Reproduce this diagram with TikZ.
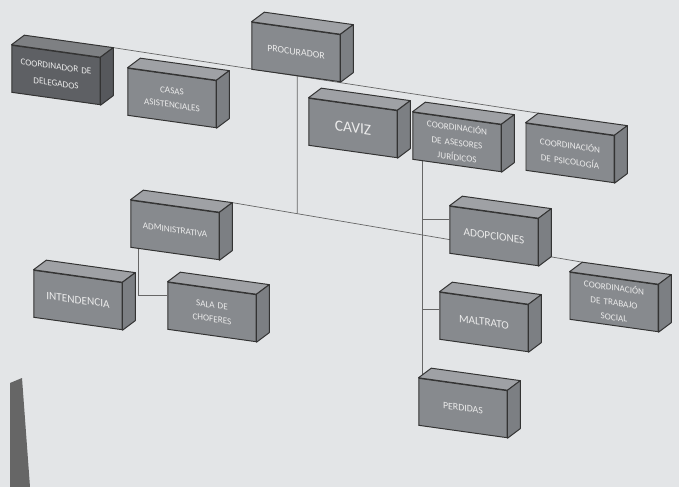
\documentclass[tikz,border=0pt]{standalone}
\usepackage{fontspec}
\setsansfont{Carlito}
\definecolor{gris}{HTML}{878A8E}
\definecolor{grisosc}{HTML}{5E6064}
\definecolor{fondo}{HTML}{E3E5E7}
\pgfdeclarelayer{fondo}
\pgfdeclarelayer{lineas}
\pgfsetlayers{fondo,lineas,main}

\begin{document}
\begin{tikzpicture}[x = 0.025cm, y = -0.025cm,
    caja/.style = {draw=black!80, line width=0.7pt, fill=gris, text=white!92!black,
        font=\sffamily\fontsize{6.5}{10}\selectfont, minimum width=2.2cm, minimum height=1.175cm,
        inner sep=1pt, text width=2.05cm, align=center, yslant=-0.14},
    linea/.style = {draw=black!60, line width=0.5pt}]
    \useasboundingbox (0,0) rectangle (679,487);
    \begin{pgfonlayer}{fondo}
        \fill[fondo] (0,0) rectangle (679,487);
        \fill[black!60] (10,383) -- (22,378) -- (30,487) -- (10,487) -- cycle;
    \end{pgfonlayer}

    % primer nivel
    \node[caja, fill=grisosc, font=\sffamily\fontsize{6.5}{12}\selectfont] (dele) at (56,75) {COORDINADOR DE\\ DELEGADOS};
    \node[caja] (casas) at (172,98) {CASAS\\ ASISTENCIALES};
    \node[caja, font=\sffamily\fontsize{7}{10}\selectfont] (proc) at (296,52) {PROCURADOR};
    \node[caja, font=\sffamily\fontsize{11}{13}\selectfont] (caviz) at (353,128) {CAVIZ};
    \node[caja, font=\sffamily\fontsize{6.5}{10.5}\selectfont] (ases) at (457,142) {COORDINACIÓN\\ DE ASESORES\\ JURÍDICOS};
    \node[caja, font=\sffamily\fontsize{6.5}{11.5}\selectfont] (psico) at (570,153) {COORDINACIÓN\\ DE PSICOLOGÍA};

    % segundo nivel
    \node[caja] (admin) at (175,230) {ADMINISTRATIVA};
    \node[caja, font=\sffamily\fontsize{8}{10}\selectfont] (inten) at (78,300) {INTENDENCIA};
    \node[caja] (sala) at (212,312) {SALA DE\\ CHOFERES};
    \node[caja, font=\sffamily\fontsize{8}{10}\selectfont] (adop) at (494,236) {ADOPCIONES};
    \node[caja, font=\sffamily\fontsize{6.5}{10.5}\selectfont] (trab) at (614,302) {COORDINACIÓN\\ DE TRABAJO\\ SOCIAL};
    \node[caja, font=\sffamily\fontsize{8}{10}\selectfont] (malt) at (484,322) {MALTRATO};
    \node[caja, font=\sffamily\fontsize{7}{10}\selectfont] (perd) at (463,408) {PERDIDAS};

    % caras de arriba y del lado
    \foreach \n/\c in {dele/grisosc, casas/gris, proc/gris, caviz/gris, ases/gris, psico/gris,
        admin/gris, inten/gris, sala/gris, adop/gris, trab/gris, malt/gris, perd/gris}
    {
        \filldraw[fill=\c!80!white, draw=black!80, line width=0.7pt, line join=round]
            (\n.north west) -- ([shift={(0.32cm,0.24cm)}]\n.north west)
            -- ([shift={(0.32cm,0.24cm)}]\n.north east) -- (\n.north east) -- cycle;
        \filldraw[fill=\c!92!black, draw=black!80, line width=0.7pt, line join=round]
            (\n.north east) -- ([shift={(0.32cm,0.24cm)}]\n.north east)
            -- ([shift={(0.32cm,0.24cm)}]\n.south east) -- (\n.south east) -- cycle;
    }

    % conectores
    \begin{pgfonlayer}{lineas}
        \coordinate (b1) at ([shift={(0.32cm,0.24cm)}]admin.north east);
        \coordinate (b2) at ([shift={(0.32cm,0.24cm)}]trab.north west);
        \coordinate (p1) at ([xshift=0.03cm]proc.south);
        \coordinate (p2) at ([xshift=0.03cm]proc.north);
        \coordinate (e1) at ([xshift=0.25cm]ases.south west);
        \coordinate (a1) at ([xshift=0.2cm]admin.south west);
        \draw[linea] ([shift={(0.32cm,0.24cm)}]dele.north east) -- ([shift={(0.32cm,0.24cm)}]psico.north west);
        \draw[linea] (b1) -- (b2);
        \draw[linea] (p1) -- (intersection of p1--p2 and b1--b2);
        \draw[linea] (e1) -- (e1 |- perd.north);
        \draw[linea] ([yshift=0.25cm]adop.west) -- ([yshift=0.25cm]adop.west -| e1);
        \draw[linea] ([yshift=0.15cm]malt.west) -- ([yshift=0.15cm]malt.west -| e1);
        \draw[linea] (a1) |- ([yshift=0.25cm]sala.west);
    \end{pgfonlayer}
\end{tikzpicture}
\end{document}
